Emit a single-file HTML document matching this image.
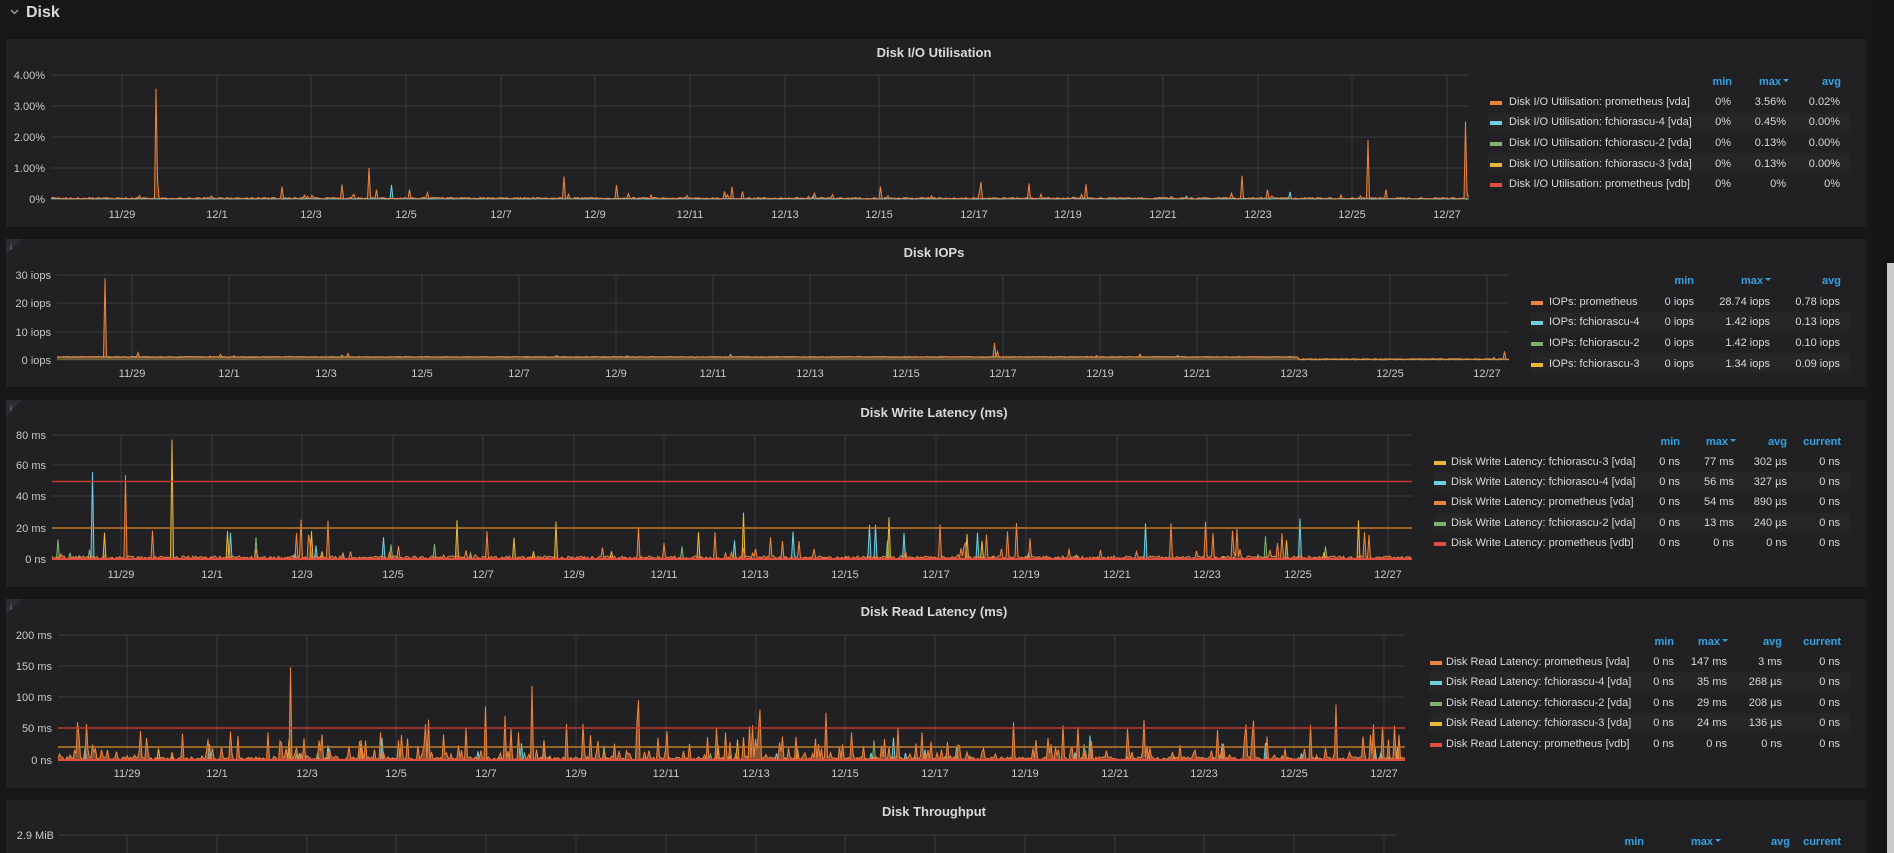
<!DOCTYPE html>
<html><head><meta charset="utf-8"><style>
html,body{margin:0;padding:0;background:#161719;width:1894px;height:853px;overflow:hidden}
svg{position:absolute;left:0;top:0}
text{font-family:"Liberation Sans",sans-serif}
.ax{fill:#c8c9ca;font-size:11px}
.ay{fill:#c8c9ca;font-size:11px;text-anchor:end}
.t{fill:#d8d9da;font-size:13px;font-weight:bold;text-anchor:middle}
.lg{fill:#d8d9da;font-size:11px}
.lv{fill:#d8d9da;font-size:11px;text-anchor:end}
.lh{fill:#33a2e5;font-size:11px;font-weight:bold;text-anchor:end}
</style></head><body>
<svg id="s" width="1894" height="853" xmlns="http://www.w3.org/2000/svg">
<rect x="1872" y="0" width="22" height="853" fill="#141517"/>
<rect x="1887" y="263" width="7" height="590" fill="#c9c9c9"/>
<text x="26" y="17" fill="#d8d9da" font-size="16" font-weight="bold">Disk</text>
<path d="M11 10 l3.5 3.5 l3.5 -3.5" stroke="#9a9a9a" stroke-width="1.5" fill="none"/>
<rect x="6" y="39" width="1861" height="188" fill="#212124"/>
<rect x="6" y="239" width="1861" height="148" fill="#212124"/>
<rect x="6" y="400" width="1861" height="187" fill="#212124"/>
<rect x="6" y="599" width="1861" height="189" fill="#212124"/>
<rect x="6" y="800" width="1861" height="60" fill="#212124"/>
<g fill="#2d2d31"><path d="M6 239h16l-16 16z"/><path d="M6 400h16l-16 16z"/><path d="M6 599h16l-16 16z"/></g>
<g fill="#888" font-size="9" font-family="Liberation Serif,serif"><text x="10" y="250">i</text><text x="10" y="411">i</text><text x="10" y="610">i</text></g>
<g id="grid" stroke="#3a3a3e" stroke-width="1"></g>
<g id="ser"></g>
<text class="t" x="934" y="57">Disk I/O Utilisation</text>
<text class="t" x="934" y="257">Disk IOPs</text>
<text class="t" x="934" y="417">Disk Write Latency (ms)</text>
<text class="t" x="934" y="616">Disk Read Latency (ms)</text>
<text class="t" x="934" y="816">Disk Throughput</text>
<g class="ay">
<text x="45" y="79">4.00%</text><text x="45" y="110">3.00%</text><text x="45" y="141">2.00%</text><text x="45" y="172">1.00%</text><text x="45" y="203">0%</text>
<text x="51" y="279">30 iops</text><text x="51" y="307">20 iops</text><text x="51" y="336">10 iops</text><text x="51" y="364">0 iops</text>
<text x="46" y="439">80 ms</text><text x="46" y="469">60 ms</text><text x="46" y="500">40 ms</text><text x="46" y="532">20 ms</text><text x="46" y="563">0 ns</text>
<text x="52" y="639">200 ms</text><text x="52" y="670">150 ms</text><text x="52" y="701">100 ms</text><text x="52" y="732">50 ms</text><text x="52" y="764">0 ns</text>
<text x="54" y="839">2.9 MiB</text>
</g>
<g class="ax" text-anchor="middle">
<text x="122" y="218">11/29</text><text x="217" y="218">12/1</text><text x="311" y="218">12/3</text><text x="406" y="218">12/5</text><text x="501" y="218">12/7</text><text x="595" y="218">12/9</text><text x="690" y="218">12/11</text><text x="785" y="218">12/13</text><text x="879" y="218">12/15</text><text x="974" y="218">12/17</text><text x="1068" y="218">12/19</text><text x="1163" y="218">12/21</text><text x="1258" y="218">12/23</text><text x="1352" y="218">12/25</text><text x="1447" y="218">12/27</text>
<text x="132" y="377">11/29</text><text x="229" y="377">12/1</text><text x="326" y="377">12/3</text><text x="422" y="377">12/5</text><text x="519" y="377">12/7</text><text x="616" y="377">12/9</text><text x="713" y="377">12/11</text><text x="810" y="377">12/13</text><text x="906" y="377">12/15</text><text x="1003" y="377">12/17</text><text x="1100" y="377">12/19</text><text x="1197" y="377">12/21</text><text x="1294" y="377">12/23</text><text x="1390" y="377">12/25</text><text x="1487" y="377">12/27</text>
<text x="121" y="578">11/29</text><text x="212" y="578">12/1</text><text x="302" y="578">12/3</text><text x="393" y="578">12/5</text><text x="483" y="578">12/7</text><text x="574" y="578">12/9</text><text x="664" y="578">12/11</text><text x="755" y="578">12/13</text><text x="845" y="578">12/15</text><text x="936" y="578">12/17</text><text x="1026" y="578">12/19</text><text x="1117" y="578">12/21</text><text x="1207" y="578">12/23</text><text x="1298" y="578">12/25</text><text x="1388" y="578">12/27</text>
<text x="127" y="777">11/29</text><text x="217" y="777">12/1</text><text x="307" y="777">12/3</text><text x="396" y="777">12/5</text><text x="486" y="777">12/7</text><text x="576" y="777">12/9</text><text x="666" y="777">12/11</text><text x="756" y="777">12/13</text><text x="845" y="777">12/15</text><text x="935" y="777">12/17</text><text x="1025" y="777">12/19</text><text x="1115" y="777">12/21</text><text x="1204" y="777">12/23</text><text x="1294" y="777">12/25</text><text x="1384" y="777">12/27</text>
</g>
<g>
<text class="lh" x="1732" y="85">min</text><text class="lh" x="1781" y="85">max</text><path d="M1783 79h6l-3 3z" fill="#33a2e5"/><text class="lh" x="1841" y="85">avg</text>
<rect x="1488" y="113" width="362" height="19" fill="#262629"/><rect x="1488" y="153" width="362" height="19" fill="#262629"/>
<rect x="1490" y="101" width="12" height="4" fill="#ef843c"/><rect x="1490" y="121" width="12" height="4" fill="#6ed0e0"/><rect x="1490" y="142" width="12" height="4" fill="#7eb26d"/><rect x="1490" y="163" width="12" height="4" fill="#eab839"/><rect x="1490" y="183" width="12" height="4" fill="#e24d42"/>
<text class="lg" x="1509" y="105">Disk I/O Utilisation: prometheus [vda]</text><text class="lg" x="1509" y="125">Disk I/O Utilisation: fchiorascu-4 [vda]</text><text class="lg" x="1509" y="146">Disk I/O Utilisation: fchiorascu-2 [vda]</text><text class="lg" x="1509" y="167">Disk I/O Utilisation: fchiorascu-3 [vda]</text><text class="lg" x="1509" y="187">Disk I/O Utilisation: prometheus [vdb]</text>
<g class="lv"><text x="1731" y="105">0%</text><text x="1786" y="105">3.56%</text><text x="1840" y="105">0.02%</text>
<text x="1731" y="125">0%</text><text x="1786" y="125">0.45%</text><text x="1840" y="125">0.00%</text>
<text x="1731" y="146">0%</text><text x="1786" y="146">0.13%</text><text x="1840" y="146">0.00%</text>
<text x="1731" y="167">0%</text><text x="1786" y="167">0.13%</text><text x="1840" y="167">0.00%</text>
<text x="1731" y="187">0%</text><text x="1786" y="187">0%</text><text x="1840" y="187">0%</text></g>
</g>
<g>
<text class="lh" x="1694" y="284">min</text><text class="lh" x="1763" y="284">max</text><path d="M1765 278h6l-3 3z" fill="#33a2e5"/><text class="lh" x="1841" y="284">avg</text>
<rect x="1530" y="312" width="320" height="19" fill="#262629"/><rect x="1530" y="353" width="320" height="19" fill="#262629"/>
<rect x="1531" y="301" width="12" height="4" fill="#ef843c"/><rect x="1531" y="321" width="12" height="4" fill="#6ed0e0"/><rect x="1531" y="342" width="12" height="4" fill="#7eb26d"/><rect x="1531" y="363" width="12" height="4" fill="#eab839"/>
<text class="lg" x="1549" y="305">IOPs: prometheus</text><text class="lg" x="1549" y="325">IOPs: fchiorascu-4</text><text class="lg" x="1549" y="346">IOPs: fchiorascu-2</text><text class="lg" x="1549" y="367">IOPs: fchiorascu-3</text>
<g class="lv"><text x="1694" y="305">0 iops</text><text x="1770" y="305">28.74 iops</text><text x="1840" y="305">0.78 iops</text>
<text x="1694" y="325">0 iops</text><text x="1770" y="325">1.42 iops</text><text x="1840" y="325">0.13 iops</text>
<text x="1694" y="346">0 iops</text><text x="1770" y="346">1.42 iops</text><text x="1840" y="346">0.10 iops</text>
<text x="1694" y="367">0 iops</text><text x="1770" y="367">1.34 iops</text><text x="1840" y="367">0.09 iops</text></g>
</g>
<g>
<text class="lh" x="1680" y="445">min</text><text class="lh" x="1728" y="445">max</text><path d="M1730 439h6l-3 3z" fill="#33a2e5"/><text class="lh" x="1787" y="445">avg</text><text class="lh" x="1841" y="445">current</text>
<rect x="1433" y="472" width="417" height="19" fill="#262629"/><rect x="1433" y="513" width="417" height="19" fill="#262629"/>
<rect x="1434" y="461" width="12" height="4" fill="#eab839"/><rect x="1434" y="481" width="12" height="4" fill="#6ed0e0"/><rect x="1434" y="501" width="12" height="4" fill="#ef843c"/><rect x="1434" y="522" width="12" height="4" fill="#7eb26d"/><rect x="1434" y="542" width="12" height="4" fill="#e24d42"/>
<text class="lg" x="1451" y="465">Disk Write Latency: fchiorascu-3 [vda]</text><text class="lg" x="1451" y="485">Disk Write Latency: fchiorascu-4 [vda]</text><text class="lg" x="1451" y="505">Disk Write Latency: prometheus [vda]</text><text class="lg" x="1451" y="526">Disk Write Latency: fchiorascu-2 [vda]</text><text class="lg" x="1451" y="546">Disk Write Latency: prometheus [vdb]</text>
<g class="lv"><text x="1680" y="465">0 ns</text><text x="1734" y="465">77 ms</text><text x="1787" y="465">302 µs</text><text x="1840" y="465">0 ns</text>
<text x="1680" y="485">0 ns</text><text x="1734" y="485">56 ms</text><text x="1787" y="485">327 µs</text><text x="1840" y="485">0 ns</text>
<text x="1680" y="505">0 ns</text><text x="1734" y="505">54 ms</text><text x="1787" y="505">890 µs</text><text x="1840" y="505">0 ns</text>
<text x="1680" y="526">0 ns</text><text x="1734" y="526">13 ms</text><text x="1787" y="526">240 µs</text><text x="1840" y="526">0 ns</text>
<text x="1680" y="546">0 ns</text><text x="1734" y="546">0 ns</text><text x="1787" y="546">0 ns</text><text x="1840" y="546">0 ns</text></g>
</g>
<g>
<text class="lh" x="1674" y="645">min</text><text class="lh" x="1720" y="645">max</text><path d="M1722 639h6l-3 3z" fill="#33a2e5"/><text class="lh" x="1782" y="645">avg</text><text class="lh" x="1841" y="645">current</text>
<rect x="1429" y="672" width="421" height="19" fill="#262629"/><rect x="1429" y="713" width="421" height="19" fill="#262629"/>
<rect x="1430" y="661" width="12" height="4" fill="#ef843c"/><rect x="1430" y="681" width="12" height="4" fill="#6ed0e0"/><rect x="1430" y="702" width="12" height="4" fill="#7eb26d"/><rect x="1430" y="722" width="12" height="4" fill="#eab839"/><rect x="1430" y="743" width="12" height="4" fill="#e24d42"/>
<text class="lg" x="1446" y="665">Disk Read Latency: prometheus [vda]</text><text class="lg" x="1446" y="685">Disk Read Latency: fchiorascu-4 [vda]</text><text class="lg" x="1446" y="706">Disk Read Latency: fchiorascu-2 [vda]</text><text class="lg" x="1446" y="726">Disk Read Latency: fchiorascu-3 [vda]</text><text class="lg" x="1446" y="747">Disk Read Latency: prometheus [vdb]</text>
<g class="lv"><text x="1674" y="665">0 ns</text><text x="1727" y="665">147 ms</text><text x="1782" y="665">3 ms</text><text x="1840" y="665">0 ns</text>
<text x="1674" y="685">0 ns</text><text x="1727" y="685">35 ms</text><text x="1782" y="685">268 µs</text><text x="1840" y="685">0 ns</text>
<text x="1674" y="706">0 ns</text><text x="1727" y="706">29 ms</text><text x="1782" y="706">208 µs</text><text x="1840" y="706">0 ns</text>
<text x="1674" y="726">0 ns</text><text x="1727" y="726">24 ms</text><text x="1782" y="726">136 µs</text><text x="1840" y="726">0 ns</text>
<text x="1674" y="747">0 ns</text><text x="1727" y="747">0 ns</text><text x="1782" y="747">0 ns</text><text x="1840" y="747">0 ns</text></g>
</g>
<g>
<text class="lh" x="1644" y="845">min</text><text class="lh" x="1713" y="845">max</text><path d="M1715 839h6l-3 3z" fill="#33a2e5"/><text class="lh" x="1790" y="845">avg</text><text class="lh" x="1841" y="845">current</text>
</g>
</svg>
<script>
(function(){
var NS="http://www.w3.org/2000/svg";
var grid=document.getElementById("grid"),ser=document.getElementById("ser");
function el(p,n,a){var e=document.createElementNS(NS,n);for(var k in a)e.setAttribute(k,a[k]);p.appendChild(e);return e;}
var seed=12345;function rnd(){seed=(seed*1103515245+12345)&0x7fffffff;return seed/0x7fffffff;}
function panel(c){
  c.ys.forEach(function(y){el(grid,"line",{x1:c.x0,x2:c.x1,y1:y,y2:y});});
  c.xs.forEach(function(x){el(grid,"line",{x1:x,x2:x,y1:c.ys[0],y2:c.zero});});
}
function series(c,s){
  var d="M"+c.x0+" "+c.zero,pts=[];
  for(var x=c.x0;x<=c.x1;x+=1.5){
    var v=(s.base?s.base(x):0)+rnd()*s.noise;
    if(rnd()<s.p)v+=rnd()*rnd()*s.max;
    (s.ex||[]).forEach(function(e){if(Math.abs(e[0]-x)<0.8)v=e[1];});
    var y=c.zero-v*c.k; if(y<c.ys[0]-2)y=c.ys[0]-2;
    pts.push(x.toFixed(1)+" "+y.toFixed(1));
  }
  el(ser,"path",{d:d+"L"+pts.join("L")+"L"+c.x1+" "+c.zero+"Z",fill:s.c,"fill-opacity":s.fo||0.25,stroke:"none"});
  el(ser,"path",{d:"M"+pts.join("L"),fill:"none",stroke:s.c,"stroke-width":1});
}
var O="#ef843c",C="#6ed0e0",G="#7eb26d",Y="#eab839",R="#e24d42";
var p1={x0:51,x1:1469,zero:199,k:31,ys:[75,106,137,168,199],xs:[122,217,311,406,501,595,690,785,879,974,1068,1163,1258,1352,1447]};
panel(p1);
series(p1,{c:C,noise:0.01,p:0.004,max:0.3,ex:[[391,0.45]]});
series(p1,{c:O,noise:0.05,p:0.05,max:0.8,ex:[[156.0,3.56],[369.0,1.0],[376.5,0.3],[616.5,0.45],[568.5,0.15],[880.5,0.4],[1267.5,0.3],[1368.0,1.9],[1465.5,2.5],[409.5,0.3],[282,0.4]]});
var p2={x0:57,x1:1509,zero:360,k:2.85,ys:[275,303,332,360],xs:[132,229,326,422,519,616,713,810,906,1003,1100,1197,1294,1390,1487]};
panel(p2);
series(p2,{c:G,noise:0.2,p:0.01,max:1,base:function(x){return x<1299?1.0:0.05;}});
series(p2,{c:O,noise:0.3,p:0.02,max:2,base:function(x){return x<1299?0.9:0.2;},ex:[[105,28.7],[994.5,6],[997.5,3],[1504.5,3]]});
var p3={x0:52,x1:1412,zero:559,k:1.55,ys:[435,465,496,528,559],xs:[121,212,302,393,483,574,664,755,845,936,1026,1117,1207,1298,1388]};
panel(p3);
series(p3,{c:G,noise:0.3,p:0.015,max:18});
series(p3,{c:C,noise:0.2,p:0.012,max:30,ex:[[93,56],[1146,23],[869.5,22],[876,22],[384,14],[231,17],[735,12]]});
series(p3,{c:Y,noise:0.3,p:0.015,max:35,ex:[[172.5,77],[744,30],[457.5,25],[1359,25],[104,17],[228,18],[312,18]]});
series(p3,{c:O,noise:2,p:0.08,max:28,ex:[[126,54],[1205,24],[487.5,18]]});
el(ser,"line",{x1:52,x2:1412,y1:481.5,y2:481.5,stroke:"#c4382f","stroke-width":1.5});
el(ser,"line",{x1:52,x2:1412,y1:528,y2:528,stroke:"#c07a2a","stroke-width":1.5});
el(ser,"line",{x1:52,x2:1412,y1:559,y2:559,stroke:R,"stroke-width":2});
var p4={x0:58,x1:1405,zero:760,k:0.63,ys:[635,666,697,728,760],xs:[127,217,307,396,486,576,666,756,845,935,1025,1115,1204,1294,1384]};
panel(p4);
series(p4,{c:G,noise:1,p:0.02,max:40});
series(p4,{c:C,noise:0.5,p:0.03,max:50,ex:[[382.5,35],[210,25]]});
series(p4,{c:Y,noise:0.5,p:0.02,max:40});
series(p4,{c:O,noise:5,p:0.25,max:70,fo:0.5,ex:[[78,60],[87,57],[291,147],[532.5,118],[485.5,85],[505.5,70],[639,95],[717,50],[760,80],[826.5,75],[898.5,50],[1014,60],[1063.5,55],[1336.5,88],[1399.5,40],[1399,40]]});
el(ser,"line",{x1:58,x2:1405,y1:728,y2:728,stroke:"#c4382f","stroke-width":1.5});
el(ser,"line",{x1:58,x2:1405,y1:747,y2:747,stroke:"#c07a2a","stroke-width":1.5});
el(ser,"line",{x1:58,x2:1405,y1:760,y2:760,stroke:R,"stroke-width":2});
el(grid,"line",{x1:58,x2:1397,y1:835,y2:835});
[127,217,307,396,486,576,666,756,845,935,1025,1115,1204,1294,1384].forEach(function(x){el(grid,"line",{x1:x,x2:x,y1:835,y2:853});});
})();
</script>
</body></html>
